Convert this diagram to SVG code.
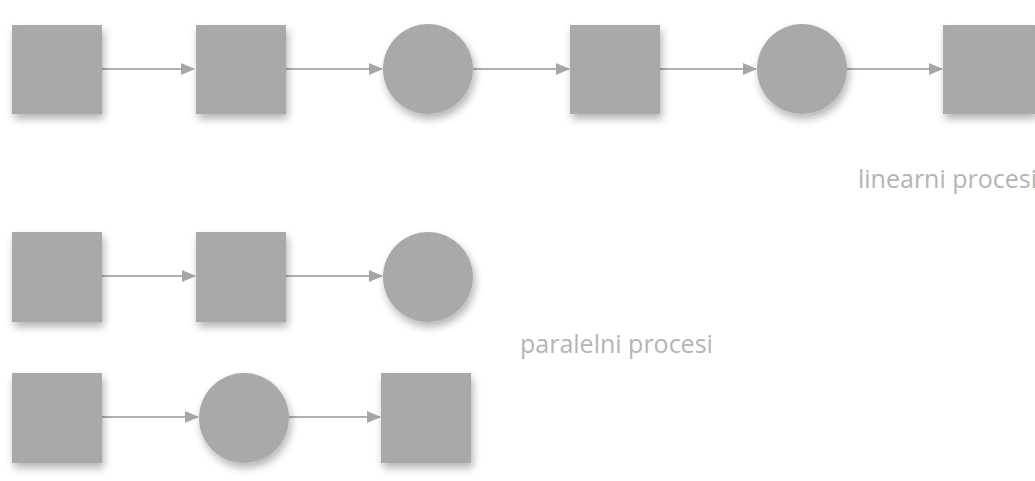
<svg xmlns="http://www.w3.org/2000/svg" width="1035" height="481" viewBox="0 0 1035 481">
<style>
.n{fill:#a9a9a9;filter:url(#sh)}
.c{stroke:#b0b0b0;stroke-width:2;fill:none;marker-end:url(#ah)}
.t{font-family:"Open Sans","Liberation Sans",sans-serif;font-size:25px;fill:#b4b4b4}
</style>
<defs>
<filter id="sh" x="-20%" y="-20%" width="150%" height="150%">
<feGaussianBlur in="SourceAlpha" stdDeviation="4"/>
<feOffset dx="2" dy="5" result="b"/>
<feComponentTransfer><feFuncA type="linear" slope="0.3"/></feComponentTransfer>
<feMerge><feMergeNode/><feMergeNode in="SourceGraphic"/></feMerge>
</filter>
<marker id="ah" markerWidth="14" markerHeight="12" refX="13" refY="6" orient="auto" markerUnits="userSpaceOnUse">
<path d="M0,0 L14,6 L0,12 Z" fill="#a6a6a6"/>
</marker>
</defs>
<rect width="1035" height="481" fill="#ffffff"/>
<g id="connectors">
<line class="c" x1="102" y1="69" x2="194" y2="69"/>
<line class="c" x1="286" y1="69" x2="382" y2="69"/>
<line class="c" x1="473" y1="69" x2="569" y2="69"/>
<line class="c" x1="660" y1="69" x2="756" y2="69"/>
<line class="c" x1="847" y1="69" x2="942" y2="69"/>
<line class="c" x1="102" y1="276" x2="195" y2="276"/>
<line class="c" x1="286" y1="276" x2="382" y2="276"/>
<line class="c" x1="102" y1="417" x2="198" y2="417"/>
<line class="c" x1="289" y1="417" x2="380" y2="417"/>
</g>
<g id="n1"><rect class="n" x="12" y="25" width="90" height="89"/></g>
<g id="n2"><rect class="n" x="196" y="25" width="90" height="89"/></g>
<g id="n3"><circle class="n" cx="428" cy="69" r="45"/></g>
<g id="n4"><rect class="n" x="570" y="25" width="90" height="89"/></g>
<g id="n5"><circle class="n" cx="802" cy="69" r="45"/></g>
<g id="n6"><rect class="n" x="943" y="25" width="92" height="89"/></g>
<g id="n7"><rect class="n" x="12" y="232" width="90" height="90"/></g>
<g id="n8"><rect class="n" x="196" y="232" width="90" height="90"/></g>
<g id="n9"><circle class="n" cx="428" cy="277" r="45"/></g>
<g id="n10"><rect class="n" x="12" y="373" width="90" height="90"/></g>
<g id="n11"><circle class="n" cx="244" cy="418" r="45"/></g>
<g id="n12"><rect class="n" x="381" y="373" width="90" height="90"/></g>
<g id="labels">
<text class="t" x="858" y="188">linearni procesi</text>
<text class="t" x="520" y="353">paralelni procesi</text>
</g>
</svg>
